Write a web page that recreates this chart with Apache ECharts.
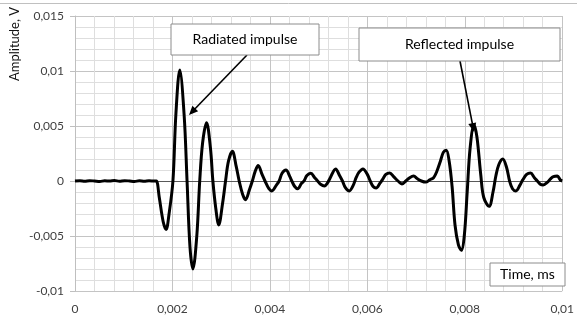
<!DOCTYPE html>
<html>
<head>
<meta charset="utf-8">
<script src="https://cdn.jsdelivr.net/npm/echarts@6/dist/echarts.min.js"></script>
<style>
html,body{margin:0;padding:0;background:#fff;}
#main{width:577px;height:320px;}
</style>
</head>
<body>
<div id="main"></div>
<script>
// Time values (axis units shown as "Time, ms")
var times = [0,0.0001,0.0002,0.0003,0.0004,0.00051,0.00061,0.00071,0.00081,0.00091,
0.00102,0.00112,0.00122,0.00132,0.00142,0.00152,0.00163,0.00167,0.00173,0.00181,
0.00187,0.00193,0.00201,0.00207,0.00215,0.00224,0.0023,0.00236,0.00242,0.0025,
0.00256,0.00262,0.0027,0.00278,0.00283,0.00289,0.00295,0.00303,0.00309,0.00315,
0.00323,0.00331,0.00337,0.00344,0.0035,0.00358,0.00364,0.0037,0.00376,0.00384,
0.0039,0.00398,0.00404,0.00413,0.00419,0.00425,0.00433,0.00441,0.00445,0.00451,
0.00457,0.00465,0.0047,0.00476,0.00484,0.00492,0.00498,0.00504,0.00512,0.00518,
0.00524,0.00535,0.00543,0.00549,0.00555,0.00563,0.00571,0.00577,0.00583,0.00591,
0.006,0.00606,0.00612,0.00618,0.00626,0.00632,0.00638,0.00646,0.00654,0.00663,
0.00671,0.00679,0.00687,0.00695,0.00703,0.00711,0.0072,0.00728,0.00736,0.00742,
0.0075,0.00756,0.00762,0.00768,0.00774,0.0078,0.00787,0.00793,0.00799,0.00805,
0.00811,0.00819,0.00825,0.00833,0.00839,0.0085,0.00858,0.00864,0.0087,0.00878,
0.00886,0.00892,0.00898,0.00905,0.00913,0.00919,0.00927,0.00935,0.00943,0.00949,
0.00955,0.00961,0.0097,0.00976,0.00982,0.0099,0.00996,0.01];
// Amplitude values, V
var amplitudes = [0,0.00003,-0.00002,0.00003,0,-0.00004,0.00002,0,0.00004,-0.00002,
0.00003,0,-0.00004,0.00002,-0.00003,0.00002,0,0,-0.0015,-0.0037,
-0.0044,-0.003,0,0.006,0.0101,0.006,0,-0.006,-0.008,-0.005,
0,0.0035,0.0053,0.003,0,-0.0025,-0.004,-0.002,0,0.0018,
0.0027,0.0013,0,-0.0012,-0.0017,-0.0008,0,0.0009,0.0014,0.0006,
0,-0.0007,-0.0009,-0.0004,0,0.0007,0.001,0.0004,0,-0.0005,
-0.0007,-0.0002,0,0.0005,0.0007,0.0003,0,-0.0003,-0.00045,-0.0002,
0.0003,0.0011,0.0005,0,-0.0006,-0.0009,-0.0004,0.0003,0.0008,0.0011,
0.0006,0,-0.0005,-0.00064,-0.0002,0.0002,0.0006,0.00073,0.0004,0,
-0.00027,0,0.0003,0.00045,0.0002,0,-0.0001,0.0001,0.0003,0.0008,
0.0018,0.0026,0.0028,0.0018,-0.0005,-0.004,-0.0058,-0.0063,-0.005,-0.001,
0.003,0.0051,0.004,0.0005,-0.0015,-0.0023,-0.001,0.0005,0.0015,0.002,
0.0012,0,-0.0007,-0.0009,-0.0004,0.0001,0.0006,0.00073,0.0003,0,
-0.0003,-0.00036,-0.0001,0.0002,0.0004,0.00045,0.0001,0];
var xTickLabels = ['0','0,002','0,004','0,006','0,008','0,01'];
var yTickLabels = ['-0,01','-0,005','0','0,005','0,01','0,015'];
var annotations = ['Radiated impulse','Reflected impulse'];
var xAxisTitle = 'Time, ms';
var yAxisTitle = 'Amplitude, V';

var seriesData = times.map(function(t,i){return [t, amplitudes[i]];});

function arrowHead(x1,y1,x2,y2,len,hw){
  var dx=x2-x1, dy=y2-y1, d=Math.sqrt(dx*dx+dy*dy); dx/=d; dy/=d;
  var bx=x2-dx*len, by=y2-dy*len;
  return [[x2,y2],[bx-dy*hw,by+dx*hw],[bx+dy*hw,by-dx*hw]];
}
function arrow(x1,y1,x2,y2){
  return [
    {type:'line',shape:{x1:x1,y1:y1,x2:x2-(x2-x1)*0.05,y2:y2-(y2-y1)*0.05},style:{stroke:'#000',lineWidth:1.6},z:20},
    {type:'polygon',shape:{points:arrowHead(x1,y1,x2,y2,9,4)},style:{fill:'#000'},z:20}
  ];
}
function box(x,y,w,h,text){
  return {type:'group',z:21,children:[
    {type:'rect',shape:{x:x,y:y,width:w,height:h},style:{fill:'#fff',stroke:'#8c8c8c',lineWidth:1},z:21},
    {type:'text',x:x+w/2,y:y+h/2,z:22,style:{text:text,fill:'#000',font:'14px Lato, sans-serif',align:'center',verticalAlign:'middle'}}
  ]};
}

var chart = echarts.init(document.getElementById('main'), null, {renderer:'canvas'});
var labelFont = {color:'#404040', fontSize:12, fontFamily:'Lato, sans-serif'};
chart.setOption({
  animation:false,
  backgroundColor:'#fff',
  grid:{left:75,right:10,top:16,bottom:29,containLabel:false},
  xAxis:{type:'value',min:0,max:0.01,interval:0.002,
    axisLine:{show:true,lineStyle:{color:'#c8c8c8'}},
    axisTick:{show:false},
    axisLabel:Object.assign({margin:12,formatter:function(v){return xTickLabels[Math.round(v/0.002)];}},labelFont),
    splitLine:{show:true,lineStyle:{color:'#c4c4c4',width:1}},
    minorTick:{show:false,splitNumber:5},
    minorSplitLine:{show:true,lineStyle:{color:'#dedede',width:1}}
  },
  yAxis:{type:'value',min:-0.01,max:0.015,interval:0.005,
    axisLine:{show:true,lineStyle:{color:'#bfbfbf'}},
    axisTick:{show:true,length:5,lineStyle:{color:'#bfbfbf'}},
    axisLabel:Object.assign({margin:11,formatter:function(v){return yTickLabels[Math.round((v+0.01)/0.005)];}},labelFont),
    splitLine:{show:true,lineStyle:{color:'#c4c4c4',width:1}},
    minorTick:{show:false,splitNumber:5},
    minorSplitLine:{show:true,lineStyle:{color:'#dedede',width:1}}
  },
  series:[{
    type:'line',data:seriesData,showSymbol:false,smooth:0.35,
    lineStyle:{color:'#000',width:3},
    z:10,
    markLine:{silent:true,symbol:['none','none'],label:{show:false},
      lineStyle:{color:'#595959',width:1,type:'solid'},
      data:[{yAxis:0}],z:5}
  }],
  graphic:[
    {type:'line',shape:{x1:0,y1:3.5,x2:577,y2:3.5},style:{stroke:'#c0c0c0',lineWidth:1}},
    {type:'text',x:15,y:44,rotation:Math.PI/2,style:{text:yAxisTitle,fill:'#111',font:'13px Lato, sans-serif',align:'center',verticalAlign:'middle'}},
    box(171,24,148,31,annotations[0]),
    box(359,28,201,33,annotations[1]),
    box(490,263,75,23,xAxisTitle)
  ].concat(arrow(247,55,189,115)).concat(arrow(460,61,474,132))
});
</script>
</body>
</html>
